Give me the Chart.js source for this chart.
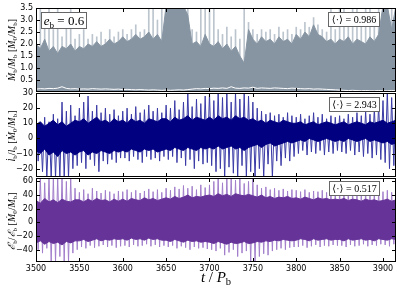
<!DOCTYPE html>
<html>
<head>
<meta charset="utf-8">
<script src="https://cdn.jsdelivr.net/npm/chart.js@4.4.1/dist/chart.umd.min.js"></script>
<style>
  body { margin: 0; background: #fff; }
  #wrap { position: relative; width: 407px; height: 288px; }
  canvas { position: absolute; left: 0; top: 0; }
</style>
</head>
<body>
<div id="wrap">
  <canvas id="topChart" width="407" height="288"></canvas>
  <canvas id="midChart" width="407" height="288"></canvas>
  <canvas id="botChart" width="407" height="288"></canvas>
</div>
<script>
// time grid (t / P_b), one sample every 5 orbits
const tStart = 3500, tStep = 5;
const xTicks = [3500, 3550, 3600, 3650, 3700, 3750, 3800, 3850, 3900];
const topTicks = [0.5, 1, 1.5, 2, 2.5, 3, 3.5];
const midTicks = [-20, -10, 0, 10, 20, 30];
const botTicks = [-40, -20, 0, 20, 40, 60];

// accretion rate: dense band top, light spikes, white secondary trace
const topCore = [2.0,1.8,2.2,1.7,1.9,1.6,1.9,1.8,2.0,1.7,
  1.9,1.8,2.0,1.9,2.1,1.9,2.0,2.2,2.0,2.1,
  2.3,2.1,2.2,2.4,2.2,2.3,2.5,2.2,2.4,2.1,
  3.6,3.6,3.6,3.6,3.6,3.2,2.0,2.1,1.9,2.4,
  2.0,1.9,2.1,1.8,2.0,1.7,1.9,1.5,1.2,2.6,
  2.2,2.0,2.3,2.1,2.2,2.0,2.3,2.1,2.2,2.0,
  2.4,2.2,2.5,2.3,2.8,2.4,2.3,2.1,2.2,2.0,
  2.2,2.1,2.3,2.0,2.2,2.1,2.0,2.3,2.1,2.4,
  3.6,3.6,2.6,3.6];
const topSpike = [2.4,3.6,3.1,3.6,2.6,3.6,2.3,3.0,3.6,2.2,
  2.4,2.6,2.2,2.4,2.3,2.5,2.2,2.6,2.3,2.5,
  2.6,2.4,2.6,2.8,2.5,2.6,3.6,3.6,3.0,3.6,
  3.6,3.6,3.6,3.6,3.6,3.6,2.6,2.5,3.6,3.6,
  3.6,3.6,2.6,2.4,2.7,2.3,2.6,2.2,3.6,2.9,
  2.6,2.4,2.6,2.5,2.6,2.4,2.7,2.5,2.6,2.4,
  2.7,2.6,2.9,2.7,3.1,2.8,2.6,2.5,3.6,2.6,
  3.6,3.6,2.8,3.6,3.6,2.7,3.6,3.6,3.0,3.6,
  3.6,3.6,3.6,3.6];
const topWhite = [0.12,0.14,0.13,0.15,0.14,0.16,0.22,0.15,0.13,0.14,
  0.12,0.13,0.12,0.14,0.13,0.12,0.13,0.12,0.11,0.12,
  0.10,0.11,0.10,0.09,0.10,0.09,0.08,0.09,0.08,0.07,
  0.08,0.07,0.08,0.09,0.08,0.10,0.12,0.14,0.13,0.15,
  0.14,0.16,0.15,0.17,0.15,0.22,0.16,0.15,0.17,0.16,
  0.20,0.15,0.17,0.16,0.15,0.17,0.16,0.15,0.14,0.16,
  0.15,0.14,0.13,0.14,0.12,0.13,0.12,0.11,0.10,0.09,
  0.08,0.07,0.06,0.07,0.06,0.05,0.06,0.05,0.05,0.06,
  0.05,0.05,0.06,0.05];

// angular momentum rate
const midCoreHi = [9,11,8,10,12,9,11,8,10,12,
  11,13,10,12,14,11,12,10,13,11,
  12,10,13,11,12,10,13,12,11,13,
  13,11,14,12,13,15,12,14,13,12,
  14,12,15,13,14,12,15,13,14,12,
  13,11,12,10,12,11,10,12,11,10,
  10,11,9,10,11,9,10,11,10,9,
  10,11,9,10,11,10,9,11,10,11,
  12,10,11,12];
const midCoreLo = [-8,-10,-7,-11,-9,-12,-8,-10,-9,-11,
  -9,-8,-11,-9,-10,-8,-9,-10,-8,-9,
  -8,-9,-7,-8,-9,-7,-8,-7,-9,-8,
  -7,-8,-6,-7,-8,-6,-7,-8,-6,-7,
  -6,-7,-5,-7,-6,-5,-7,-6,-8,-6,
  -5,-4,-6,-4,-3,-5,-4,-3,-2,-3,
  -2,-1,-2,0,-1,-2,-1,0,-1,-2,
  -1,-2,0,-1,-2,-1,0,-2,-1,-2,
  -3,-2,-4,-3];
const midSpikeHi = [12,10,14,11,16,13,24,18,22,15,
  20,24,28,18,22,17,20,16,19,15,
  18,20,16,21,17,19,22,18,20,17,
  22,20,25,19,24,30,21,26,23,28,
  30,25,31,27,30,24,31,26,30,28,
  24,20,18,16,17,15,16,14,17,15,
  14,16,13,15,17,14,16,13,15,14,
  15,13,16,14,17,15,18,16,20,22,
  25,31,27,31];
const midSpikeLo = [-15,-22,-26,-26,-26,-26,-26,-26,-20,-18,
  -16,-20,-14,-18,-22,-15,-17,-14,-16,-13,
  -13,-15,-12,-14,-16,-12,-14,-13,-15,-12,
  -14,-12,-16,-13,-18,-14,-20,-15,-17,-16,
  -18,-22,-20,-26,-19,-23,-26,-18,-26,-22,
  -26,-20,-26,-17,-26,-15,-18,-13,-15,-12,
  -10,-8,-11,-9,-10,-8,-11,-9,-10,-8,
  -9,-10,-8,-11,-9,-12,-10,-13,-11,-14,
  -16,-20,-18,-26];

// energy rate
const botCoreHi = [32,28,35,30,33,29,34,31,30,33,
  33,30,34,31,35,32,33,30,34,31,
  34,31,35,33,32,36,33,35,32,34,
  36,34,38,35,37,40,36,38,37,39,
  40,38,42,39,41,38,42,40,39,41,
  39,37,40,36,38,35,37,36,38,35,
  36,34,37,35,33,36,34,35,33,34,
  33,35,32,34,33,31,34,32,33,31,
  32,34,31,33];
const botCoreLo = [-30,-27,-32,-28,-31,-29,-33,-28,-30,-27,
  -27,-25,-28,-26,-24,-27,-25,-26,-24,-25,
  -24,-26,-23,-25,-24,-26,-23,-25,-24,-26,
  -26,-28,-25,-27,-29,-26,-28,-27,-29,-28,
  -29,-31,-28,-30,-32,-29,-31,-30,-28,-31,
  -30,-28,-29,-27,-28,-26,-27,-25,-26,-27,
  -26,-24,-25,-27,-24,-26,-25,-24,-26,-25,
  -25,-27,-24,-26,-25,-24,-26,-25,-27,-24,
  -25,-26,-24,-25];
const botSpikeHi = [66,66,58,66,66,66,66,60,66,50,
  44,48,42,50,46,43,47,45,42,46,
  45,48,44,47,43,46,49,45,48,44,
  50,47,52,49,54,50,53,48,55,51,
  55,60,66,58,66,66,62,66,57,60,
  66,55,50,52,48,50,47,49,46,48,
  47,45,48,44,46,45,47,44,46,45,
  44,46,43,45,42,44,46,43,45,44,
  45,47,44,46];
const botSpikeLo = [-40,-45,-38,-58,-58,-50,-58,-58,-45,-40,
  -36,-38,-34,-37,-35,-33,-36,-34,-37,-35,
  -34,-36,-33,-35,-34,-32,-35,-33,-36,-34,
  -36,-34,-38,-35,-37,-40,-36,-38,-37,-39,
  -40,-42,-38,-48,-44,-40,-50,-45,-42,-58,
  -58,-50,-46,-48,-42,-40,-38,-40,-37,-36,
  -36,-34,-37,-35,-33,-36,-34,-35,-33,-34,
  -34,-36,-33,-35,-34,-32,-35,-33,-34,-32,
  -33,-35,-32,-34];

const times = topCore.map((_, i) => tStart + i * tStep);
const pts = arr => arr.map((v, i) => ({ x: times[i], y: v }));
// spike trace: each sample's high followed by its low half a step later
const zig = (lo, hi) => hi.flatMap((v, i) => [{ x: times[i], y: v }, { x: times[i] + tStep / 2, y: lo[i] }]);

const SERIF = '"Liberation Serif", "DejaVu Serif", serif';

function runsWidth(ctx, runs, size) {
  let w = 0;
  runs.forEach(([txt, st]) => {
    const fs = st === 's' ? size * 0.7 : size;
    ctx.font = (st === 'i' ? 'italic ' : '') + fs + 'px ' + SERIF;
    w += ctx.measureText(txt).width;
  });
  return w;
}

function drawRuns(ctx, runs, x, y, size) {
  runs.forEach(([txt, st]) => {
    const fs = st === 's' ? size * 0.7 : size;
    ctx.font = (st === 'i' ? 'italic ' : '') + fs + 'px ' + SERIF;
    ctx.fillText(txt, x, st === 's' ? y + size * 0.22 : y);
    x += ctx.measureText(txt).width;
  });
}

function framePlugin(cfg) {
  return {
    id: 'frame',
    afterDatasetsDraw(chart) {
      const { ctx, chartArea: a, scales: { x, y } } = chart;
      ctx.save();
      ctx.strokeStyle = '#000';
      ctx.lineWidth = 1;
      ctx.strokeRect(a.left + 0.5, a.top + 0.5, a.right - a.left - 1, a.bottom - a.top - 1);
      ctx.beginPath();
      xTicks.forEach(v => {
        const px = Math.round(x.getPixelForValue(v)) + 0.5;
        ctx.moveTo(px, a.top); ctx.lineTo(px, a.top + 4);
        ctx.moveTo(px, a.bottom); ctx.lineTo(px, a.bottom - 4);
      });
      cfg.yTicks.forEach(v => {
        const py = Math.round(y.getPixelForValue(v)) + 0.5;
        ctx.moveTo(a.left, py); ctx.lineTo(a.left + 4, py);
        ctx.moveTo(a.right, py); ctx.lineTo(a.right - 4, py);
      });
      ctx.stroke();

      // boxed labels
      ctx.textBaseline = 'alphabetic';
      ctx.textAlign = 'left';
      cfg.boxes.forEach(b => {
        ctx.fillStyle = '#fff';
        ctx.fillRect(b.x1, b.y1, b.x2 - b.x1, b.y2 - b.y1);
        ctx.strokeStyle = '#666';
        ctx.strokeRect(b.x1 + 0.5, b.y1 + 0.5, b.x2 - b.x1 - 1, b.y2 - b.y1 - 1);
        ctx.fillStyle = '#000';
        const w = runsWidth(ctx, b.runs, b.size);
        drawRuns(ctx, b.runs, (b.x1 + b.x2) / 2 - w / 2, b.base, b.size);
      });

      // rotated y title
      const t = cfg.title;
      ctx.save();
      ctx.translate(t.x, t.y);
      ctx.rotate(-Math.PI / 2);
      const tw = runsWidth(ctx, t.runs, t.size);
      drawRuns(ctx, t.runs, -tw / 2, 0, t.size);
      ctx.restore();

      if (cfg.xAxis) {
        ctx.font = '8px "DejaVu Sans", sans-serif';
        ctx.textAlign = 'center';
        ctx.textBaseline = 'top';
        xTicks.forEach(v => ctx.fillText(String(v), x.getPixelForValue(v), a.bottom + 3));
        ctx.textAlign = 'left';
        ctx.textBaseline = 'alphabetic';
        const xr = [['t', 'i'], [' / ', 'n'], ['P', 'i'], ['b', 's']];
        const xw = runsWidth(ctx, xr, 15);
        drawRuns(ctx, xr, 216 - xw / 2, 282, 15);
      }
      ctx.restore();
    }
  };
}

const fmtMinus = v => String(v).replace('-', '\u2212');

function makePanel(id, cfg) {
  return new Chart(document.getElementById(id), {
    type: 'bar',
    data: { datasets: cfg.datasets },
    options: {
      responsive: false,
      animation: false,
      events: [],
      layout: { padding: { left: 0, right: 11, top: cfg.top, bottom: 288 - cfg.bottom } },
      plugins: { legend: { display: false }, tooltip: { enabled: false } },
      scales: {
        x: { type: 'linear', min: 3500, max: 3915, display: false, offset: false },
        y: {
          min: cfg.min, max: cfg.max,
          afterFit: s => { s.width = 36; },
          afterBuildTicks: s => { s.ticks = cfg.yTicks.map(v => ({ value: v })); },
          ticks: { callback: cfg.fmt, font: { family: 'DejaVu Sans', size: 8 }, color: '#000', padding: 3 },
          grid: { display: false, drawTicks: false },
          border: { display: false }
        }
      }
    },
    plugins: [framePlugin(cfg)]
  });
}

const lineBase = { type: 'line', pointRadius: 0, tension: 0, borderWidth: 1 };

makePanel('topChart', {
  top: 8, bottom: 92, min: 0, max: 3.5, yTicks: topTicks,
  fmt: v => v.toFixed(1),
  datasets: [
    { ...lineBase, data: pts(topWhite), borderColor: '#ffffff', order: 0 },
    { ...lineBase, data: pts(topCore), fill: 'origin', borderColor: '#8795a3', backgroundColor: '#8795a3', order: 1 },
    { type: 'bar', data: pts(topSpike), backgroundColor: '#bcc5ce', barThickness: 1, grouped: false, order: 2 }
  ],
  boxes: [
    { x1: 41, y1: 12, x2: 87, y2: 29, base: 25, size: 13, runs: [['e', 'i'], ['b', 's'], [' = 0.6', 'n']] },
    { x1: 328, y1: 12, x2: 380, y2: 27, base: 23, size: 10, runs: [['\u27E8\u00B7\u27E9 = 0.986', 'n']] }
  ],
  title: { x: 15, y: 50, size: 10, runs: [['\u1E40', 'i'], ['b', 's'], ['/', 'n'], ['M', 'i'], ['b', 's'], [' [', 'n'], ['\u1E40', 'i'], ['0', 's'], ['/', 'n'], ['M', 'i'], ['b', 's'], [']', 'n']] }
});

makePanel('midChart', {
  top: 93, bottom: 177, min: -25.5, max: 30, yTicks: midTicks,
  fmt: fmtMinus,
  datasets: [
    { ...lineBase, data: pts(midCoreHi), fill: '+1', borderColor: '#000080', backgroundColor: '#000080', order: 0 },
    { ...lineBase, data: pts(midCoreLo), fill: false, borderColor: '#000080', order: 1 },
    { ...lineBase, data: zig(midSpikeLo, midSpikeHi), borderColor: '#3a3aa6', order: 2 }
  ],
  boxes: [
    { x1: 329, y1: 97, x2: 380, y2: 112, base: 108, size: 10, runs: [['\u27E8\u00B7\u27E9 = 2.943', 'n']] }
  ],
  title: { x: 15, y: 136, size: 10, runs: [['l\u0307', 'i'], ['b', 's'], ['/', 'n'], ['l', 'i'], ['b', 's'], [' [', 'n'], ['\u1E40', 'i'], ['0', 's'], ['/', 'n'], ['M', 'i'], ['b', 's'], [']', 'n']] }
});

makePanel('botChart', {
  top: 178, bottom: 262, min: -58, max: 65, yTicks: botTicks, xAxis: true,
  fmt: fmtMinus,
  datasets: [
    { ...lineBase, data: pts(botCoreHi), fill: '+1', borderColor: '#663399', backgroundColor: '#663399', order: 0 },
    { ...lineBase, data: pts(botCoreLo), fill: false, borderColor: '#663399', order: 1 },
    { ...lineBase, data: zig(botSpikeLo, botSpikeHi), borderColor: '#a27ecb', order: 2 }
  ],
  boxes: [
    { x1: 329, y1: 181, x2: 380, y2: 196, base: 192, size: 10, runs: [['\u27E8\u00B7\u27E9 = 0.517', 'n']] }
  ],
  title: { x: 15, y: 221, size: 10, runs: [['\u2130\u0307', 'i'], ['b', 's'], ['/', 'n'], ['\u2130', 'i'], ['b', 's'], [' [', 'n'], ['\u1E40', 'i'], ['0', 's'], ['/', 'n'], ['M', 'i'], ['b', 's'], [']', 'n']] }
});
</script>
</body>
</html>
